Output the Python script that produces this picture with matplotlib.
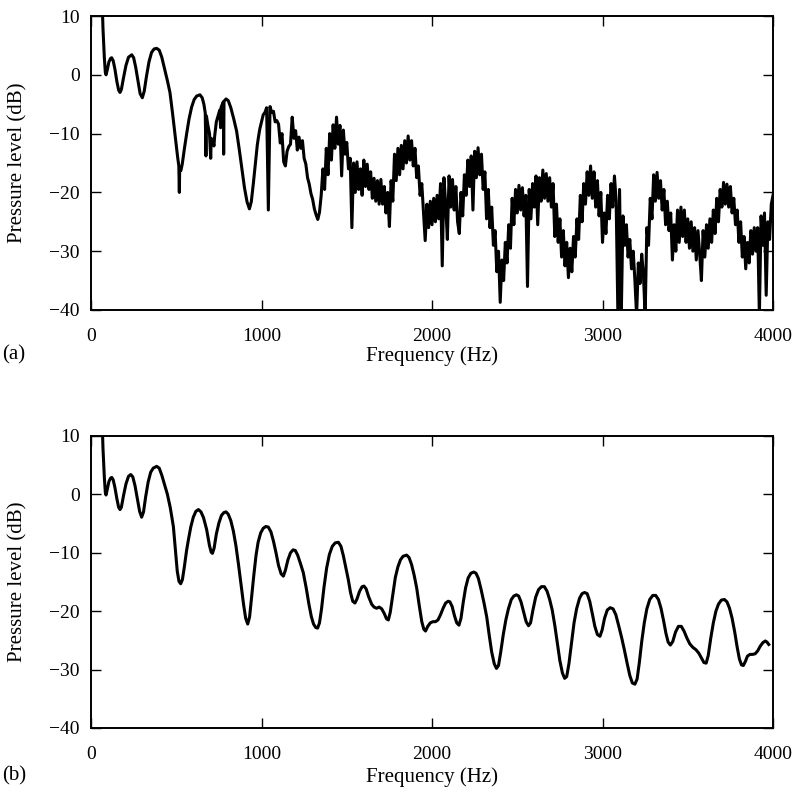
import matplotlib
matplotlib.use("Agg")
import matplotlib.pyplot as plt
import numpy as np

# (a) measured spectrum, low part read point by point (Hz, dB)
freq_a_low = [64, 70, 78, 84, 88, 95, 105, 115, 121, 130, 140, 152, 162, 170, 178,
              190, 205, 220, 239, 250, 262, 275, 288, 301, 312, 325, 340, 355, 370,
              385, 400, 415, 430, 448, 463, 478, 490, 498, 508, 515, 518, 520, 527,
              535, 548, 561, 575, 590, 605, 620, 639, 652, 662, 670, 674, 677, 685,
              695, 702, 705, 712, 717, 721, 725, 735, 745, 755, 760, 763, 776, 778,
              780, 792, 805, 820, 838, 854, 870, 885, 900, 915, 929, 940, 952, 965,
              975, 981, 990]
level_a_low = [14.0, 8.0, 3.0, 0.4, 0.0, 0.8, 2.2, 2.8, 2.9, 2.4, 1.0, -1.2, -2.6, -3.0, -2.5,
               -0.6, 1.6, 3.0, 3.4, 2.9, 1.3, -1.0, -3.2, -3.9, -2.8, -0.3, 2.2, 3.8, 4.4,
               4.5, 4.2, 3.0, 1.2, -1.0, -3.0, -6.5, -9.5, -11.5, -14.0, -15.5, -20.0, -16.0, -16.3,
               -15.2, -12.5, -10.0, -7.5, -5.5, -4.2, -3.6, -3.4, -3.9, -5.0, -6.5, -13.8, -7.0, -8.5,
               -10.0, -14.2, -10.8, -11.2, -11.5, -12.1, -10.5, -8.0, -7.0, -6.0, -9.0, -5.5, -4.6, -13.5,
               -4.5, -4.1, -4.4, -5.6, -7.6, -9.6, -12.8, -16.0, -19.2, -21.6, -22.8, -21.6, -18.5, -14.8,
               -12.0, -10.8, -9.2]

# (a) noisy part, one value every 10 Hz from 1000 Hz, one row per 100 Hz
level_a_noisy = [
    [-8.0, -6.8, -6.4, -5.6, -23.0, -5.4, -6.4, -6.2, -8.0, -7.8],         # 1000
    [-8.4, -11.6, -10.0, -14.8, -15.5, -13.0, -12.2, -11.8, -7.2, -10.8],  # 1100
    [-9.5, -12.8, -10.6, -12.5, -11.2, -14.2, -15.2, -17.5, -18.6, -20.2], # 1200
    [-21.2, -22.8, -23.8, -24.6, -23.4, -20.5, -16.0, -19.5, -12.5, -17.0],# 1300
    [-10.0, -14.5, -8.5, -12.5, -7.2, -11.8, -8.6, -17.2, -9.4, -13.5],    # 1400
    [-11.5, -16.0, -14.2, -26.0, -15.0, -20.0, -14.8, -19.5, -16.0, -20.5],# 1500
    [-14.5, -19.0, -15.2, -19.5, -16.5, -21.0, -17.6, -21.5, -18.0, -22.0],# 1600
    [-17.8, -22.0, -19.0, -23.5, -20.0, -25.8, -18.0, -21.5, -13.5, -18.0],# 1700
    [-12.5, -17.0, -12.0, -16.0, -11.2, -15.0, -10.4, -14.5, -11.2, -15.5],# 1800
    [-12.5, -17.5, -15.5, -20.5, -18.5, -23.5, -28.2, -22.0, -26.0, -21.5],# 1900
    [-25.5, -21.0, -25.0, -20.5, -24.5, -18.5, -32.5, -17.5, -22.0, -28.0],# 2000
    [-17.2, -22.5, -17.8, -23.0, -19.0, -25.0, -27.0, -20.0, -24.0, -17.0],# 2100
    [-20.5, -14.5, -19.0, -13.8, -23.0, -13.0, -17.5, -12.4, -17.0, -13.5],# 2200
    [-19.5, -16.5, -24.5, -19.5, -26.0, -22.5, -29.0, -26.5, -33.5, -30.0],# 2300
    [-38.7, -31.5, -35.0, -28.5, -32.0, -25.5, -29.5, -21.0, -25.5, -19.5],# 2400
    [-23.5, -18.8, -23.0, -19.2, -24.0, -20.5, -36.0, -19.5, -24.5, -18.5],# 2500
    [-22.5, -17.2, -25.5, -17.5, -21.5, -16.2, -21.0, -16.8, -21.5, -17.5],# 2600
    [-22.5, -18.5, -27.5, -22.0, -28.5, -24.5, -31.0, -26.5, -32.5, -28.5],# 2700
    [-34.5, -29.5, -33.5, -27.5, -31.0, -24.5, -28.0, -20.5, -25.0, -18.5],# 2800
    [-22.0, -16.5, -20.5, -15.5, -21.0, -16.5, -22.5, -18.0, -24.0, -20.0],# 2900
    [-28.5, -23.5, -27.0, -20.5, -24.5, -18.5, -22.5, -17.2, -21.5, -40.5],# 3000
    [-19.5, -41.0, -24.0, -29.0, -25.5, -31.0, -28.0, -33.0, -30.0, -35.0],# 3100
    [-41.0, -32.0, -35.5, -30.5, -34.0, -41.0, -26.0, -29.0, -21.0, -24.5],# 3200
    [-17.0, -21.5, -16.6, -21.0, -18.0, -23.0, -19.5, -25.5, -21.5, -26.5],# 3300
    [-23.5, -31.5, -25.5, -30.0, -23.0, -28.5, -22.5, -27.5, -23.0, -28.5],# 3400
    [-24.5, -29.5, -25.0, -30.0, -26.0, -31.5, -26.5, -30.5, -35.0, -26.5],# 3500
    [-31.0, -25.5, -29.5, -24.5, -28.5, -23.0, -27.0, -21.0, -25.0, -19.5],# 3600
    [-22.5, -18.3, -22.0, -18.6, -22.5, -19.0, -23.5, -21.0, -25.5, -23.0],# 3700
    [-28.5, -25.0, -31.0, -27.5, -33.0, -28.5, -32.0, -26.5, -30.5, -26.0],# 3800
    [-30.0, -26.0, -41.0, -24.0, -29.0, -23.5, -37.5, -25.0, -28.0, -22.0],# 3900
]
level_a_end = -20.5  # value at 4000 Hz

# (b) smoothed spectrum (Hz, dB)
freq_b = [64, 70, 78, 84, 88, 95, 105, 115, 122, 130, 140, 152, 162, 170, 178, 190, 205,
          220, 233, 245, 258, 272, 285, 297, 308, 320, 335, 350, 365, 385, 400, 415, 430,
          448, 465, 483, 495, 506, 516, 526, 536, 548, 560, 571, 585, 600, 615, 630, 645,
          660, 678, 695, 705, 712, 722, 735, 750, 765, 780, 792, 805, 820, 835, 850, 865,
          880, 895, 907, 919, 930, 942, 955, 968, 980, 995, 1010, 1025, 1040, 1055, 1070,
          1085, 1100, 1115, 1128, 1140, 1155, 1170, 1185, 1198, 1212, 1228, 1245, 1262,
          1278, 1292, 1305, 1318, 1329, 1340, 1352, 1366, 1382, 1398, 1415, 1432, 1451,
          1466, 1480, 1495, 1509, 1522, 1535, 1548, 1560, 1575, 1590, 1601, 1614, 1628,
          1646, 1660, 1675, 1690, 1705, 1720, 1733, 1744, 1755, 1770, 1785, 1800, 1815,
          1830, 1851, 1865, 1880, 1895, 1910, 1925, 1940, 1952, 1962, 1975, 1990, 2005,
          2020, 2035, 2050, 2065, 2080, 2095, 2105, 2118, 2132, 2145, 2158, 2170, 2183,
          2197, 2212, 2228, 2245, 2258, 2272, 2288, 2305, 2321, 2335, 2350, 2365, 2378,
          2390, 2403, 2418, 2433, 2448, 2465, 2480, 2495, 2508, 2522, 2538, 2552, 2566,
          2578, 2592, 2608, 2625, 2642, 2659, 2675, 2690, 2705, 2720, 2735, 2750, 2765,
          2778, 2790, 2803, 2818, 2833, 2848, 2865, 2880, 2895, 2910, 2925, 2940, 2955,
          2970, 2985, 2998, 3012, 3028, 3045, 3062, 3078, 3095, 3112, 3128, 3145, 3160,
          3175, 3190, 3203, 3216, 3230, 3245, 3260, 3277, 3295, 3312, 3328, 3343, 3358,
          3372, 3385, 3398, 3412, 3428, 3445, 3462, 3478, 3495, 3512, 3530, 3548, 3565,
          3580, 3595, 3608, 3620, 3635, 3650, 3665, 3680, 3697, 3715, 3730, 3745, 3760,
          3775, 3790, 3803, 3815, 3826, 3838, 3850, 3865, 3880, 3895, 3910, 3925, 3940,
          3955, 3965, 3975]
level_b = [14.0, 8.0, 3.0, 0.3, -0.1, 0.8, 2.2, 2.8, 2.9, 2.5, 1.2, -0.8, -2.2, -2.6, -2.2, -0.3, 1.8,
           3.1, 3.4, 3.0, 1.5, -0.8, -2.9, -3.9, -3.0, -0.5, 2.1, 3.8, 4.5, 4.8, 4.5, 3.3, 1.8,
           0.0, -2.3, -5.5, -9.5, -13.2, -14.9, -15.3, -14.6, -12.3, -9.7, -7.8, -5.6, -3.9, -2.9, -2.6, -3.0,
           -4.0, -6.0, -8.8, -9.9, -10.1, -9.2, -6.8, -4.9, -3.6, -3.1, -3.0, -3.4, -4.5, -6.3, -8.8, -12.0,
           -15.5, -18.9, -21.2, -22.2, -21.0, -17.5, -13.8, -10.4, -8.2, -6.6, -5.8, -5.5, -5.6, -6.4, -8.0,
           -10.0, -12.2, -13.6, -14.0, -13.0, -11.2, -10.0, -9.5, -9.6, -10.4, -11.8, -13.4, -16.0,
           -18.8, -20.9, -22.2, -22.8, -22.9, -22.0, -19.6, -16.0, -12.6, -10.3, -8.9, -8.3, -8.2,
           -8.9, -10.5, -12.6, -14.6, -16.8, -18.3, -18.6, -17.9, -16.6, -15.8, -15.7, -16.2, -17.5,
           -18.8, -19.3, -19.5, -19.3, -19.6, -20.4, -21.3, -21.5, -20.2, -17.2, -14.2, -12.4, -11.2,
           -10.6, -10.4, -10.8, -12.0, -13.8, -16.0, -19.0, -21.8, -23.1, -23.4, -22.6, -22.0, -21.8,
           -21.8, -21.5, -20.6, -19.5, -18.6, -18.3, -18.4, -19.2, -20.8, -22.0, -22.4, -21.2, -18.5,
           -16.0, -14.3, -13.5, -13.3, -13.5, -14.4, -16.3, -18.6, -21.0, -24.0, -27.0, -29.0, -29.8,
           -29.3, -27.0, -24.0, -21.5, -19.6, -18.0, -17.4, -17.2, -17.4, -18.4, -20.2, -21.8, -22.5,
           -22.0, -19.8, -17.6, -16.3, -15.8, -15.8, -16.6, -18.0, -19.8, -22.4, -25.5, -28.5, -30.6,
           -31.5, -31.2, -29.0, -25.5, -22.0, -19.6, -17.8, -17.0, -16.8, -17.0, -18.3, -20.4, -22.6,
           -24.0, -24.3, -23.2, -21.2, -19.8, -19.4, -19.6, -20.6, -22.5, -24.5, -26.6, -29.0, -31.0,
           -32.3, -32.5, -31.6, -28.8, -25.2, -22.0, -19.6, -18.0, -17.3, -17.3, -18.0, -19.5, -21.6,
           -23.8, -25.3, -25.8, -25.2, -23.6, -22.6, -22.6, -23.4, -24.6, -25.6, -26.2, -26.6, -27.2,
           -28.0, -28.8, -28.9, -27.6, -24.6, -22.0, -20.0, -18.8, -18.1, -18.0, -18.4, -19.5, -21.2,
           -23.5, -26.2, -28.2, -29.2, -29.3, -28.6, -27.7, -27.4, -27.4, -27.3, -26.8, -26.0, -25.4,
           -25.1, -25.3, -25.7]

x_ticks = [0, 1000, 2000, 3000, 4000]
y_ticks = [-40, -30, -20, -10, 0, 10]

plt.rcParams["font.family"] = ["Liberation Serif", "DejaVu Serif"]

# put the two parts of (a) together, noisy bins are on a 10 Hz grid
freq_a = np.concatenate([freq_a_low, np.arange(1000, 4001, 10)])
level_a = np.concatenate([level_a_low, np.ravel(level_a_noisy), [level_a_end]])

fig = plt.figure(figsize=(7.97, 7.93), dpi=100)
ax_a = fig.add_axes([0.1142, 0.6091, 0.8557, 0.3707])
ax_b = fig.add_axes([0.1142, 0.0820, 0.8557, 0.3682])

ax_a.plot(freq_a, level_a, color="black", lw=2.2, solid_joinstyle="round")
ax_b.plot(freq_b, level_b, color="black", lw=2.2, solid_joinstyle="round")

for ax in (ax_a, ax_b):
    ax.set_xlim(0, 4000)
    ax.set_ylim(-40, 10)
    ax.set_xticks(x_ticks)
    ax.set_yticks(y_ticks)
    ax.tick_params(direction="in", length=7, width=1.0, top=True, right=True,
                   labelsize=14)
    ax.tick_params(axis="x", pad=13)
    ax.tick_params(axis="y", pad=8)
    for s in ax.spines.values():
        s.set_linewidth(1.4)
    ax.set_xlabel("Frequency (Hz)", fontsize=15)
    ax.set_ylabel("Pressure level (dB)", fontsize=15)
    ax.yaxis.set_label_coords(-0.093, 0.5)

ax_a.xaxis.set_label_coords(0.5, -0.125)
ax_b.xaxis.set_label_coords(0.5, -0.135)

fig.text(0.003, 0.5523, "(a)", fontsize=15, va="center", ha="left")
fig.text(0.003, 0.0214, "(b)", fontsize=15, va="center", ha="left")

fig.savefig("out.png", dpi=100)
